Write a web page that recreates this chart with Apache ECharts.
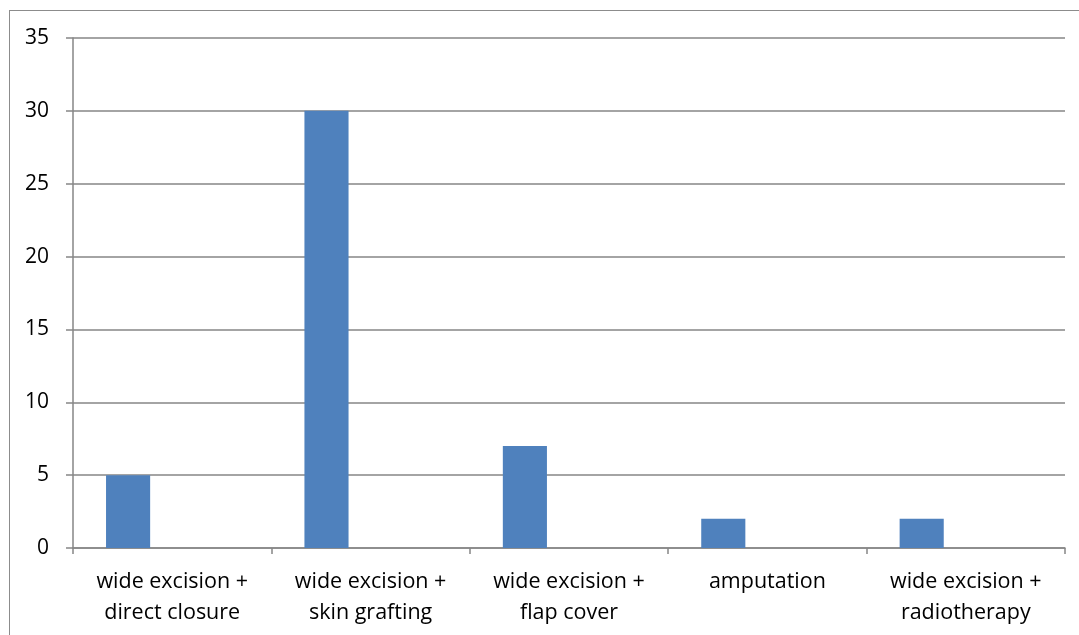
<!DOCTYPE html>
<html><head><meta charset="utf-8">
<script src="https://cdn.jsdelivr.net/npm/echarts@6/dist/echarts.min.js"></script>
<style>
html,body{margin:0;padding:0;background:#fff;overflow:hidden}
#frame{position:absolute;left:9px;top:10px;width:1100px;height:700px;border:1.5px solid #8c8c8c;box-sizing:border-box}
#c{position:absolute;left:0;top:0;width:1079px;height:635px}
</style></head>
<body>
<div id="frame"></div>
<div id="c"></div>
<script>
const categories = ["wide excision +\ndirect closure","wide excision +\nskin grafting","wide excision +\nflap cover","amputation","wide excision +\nradiotherapy"];
const seriesValues = [5,30,7,2,2];
const emptySeries = [null,null,null,null,null];
const yTicks = {min:0,max:35,interval:5};

const chart = echarts.init(document.getElementById('c'),null,{renderer:'canvas'});
const font = "'Open Sans', 'Noto Sans', sans-serif";
chart.setOption({
  animation:false,
  grid:{left:73,right:14,top:38,bottom:87},
  xAxis:{type:'category',data:categories,
    axisLine:{lineStyle:{color:'#868686',width:1.5}},
    axisTick:{show:true,length:6,alignWithLabel:false,lineStyle:{color:'#868686',width:1.5}},
    axisLabel:{color:'#000',fontSize:21.5,fontFamily:font,lineHeight:31,margin:18,interval:0}},
  yAxis:{type:'value',min:yTicks.min,max:yTicks.max,interval:yTicks.interval,
    axisLine:{show:true,lineStyle:{color:'#868686',width:1.5}},
    axisTick:{show:true,length:7,lineStyle:{color:'#868686',width:1.5}},
    splitLine:{lineStyle:{color:'#868686',width:1.5}},
    axisLabel:{color:'#000',fontSize:21,fontFamily:font,margin:24}},
  series:[
    {type:'bar',data:seriesValues,itemStyle:{color:'#4F81BD'},barGap:'0%',barCategoryGap:'33.3%'},
    {type:'bar',data:emptySeries},
    {type:'bar',data:emptySeries}
  ]
});
</script>
</body></html>
